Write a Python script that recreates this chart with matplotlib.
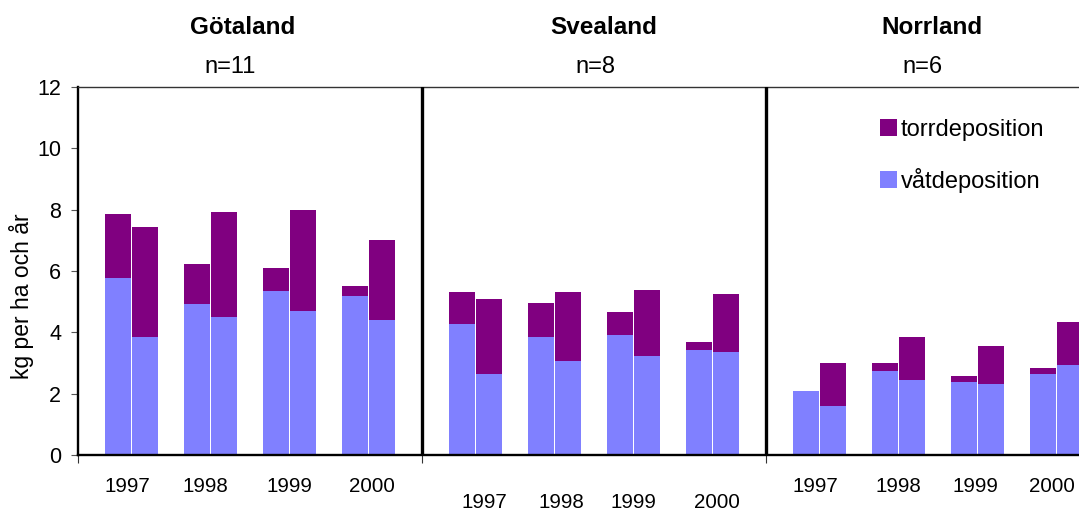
import matplotlib
matplotlib.use("Agg")
import matplotlib.pyplot as plt
from matplotlib.patches import Patch
import matplotlib.transforms as mtransforms

plt.rcParams['font.family'] = ['Liberation Sans', 'DejaVu Sans']

# ---------------- data ----------------
regions = ['Götaland', 'Svealand', 'Norrland']
n_labels = ['n=11', 'n=8', 'n=6']
years = ['1997', '1998', '1999', '2000']

# first bar of each year pair
wet_a = [[5.78, 4.93, 5.35, 5.19],
         [4.28, 3.85, 3.92, 3.43],
         [2.09, 2.74, 2.38, 2.64]]
dry_a = [[2.09, 1.30, 0.75, 0.33],
         [1.04, 1.11, 0.75, 0.26],
         [0.00, 0.26, 0.20, 0.20]]
# second bar of each year pair
wet_b = [[3.85, 4.50, 4.70, 4.41],
         [2.64, 3.07, 3.23, 3.37],
         [1.60, 2.45, 2.32, 2.94]]
dry_b = [[3.59, 3.43, 3.30, 2.61],
         [2.45, 2.25, 2.16, 1.88],
         [1.40, 1.40, 1.24, 1.40]]

wet_color = '#8080FF'
dry_color = '#800080'

# ---------------- layout ----------------
W, H = 1079, 512
fig = plt.figure(figsize=(W / 100, H / 100), dpi=100)
ax_left, ax_right, ax_top, ax_bot = 78, 1079, 87, 455
ax = fig.add_axes([ax_left / W, (H - ax_bot) / H,
                   (ax_right - ax_left) / W, (ax_bot - ax_top) / H])

U = 79.0                     # pixels per x unit (one year group)
PANEL_W = 344 / U
FIRST = 0.68
BAR_W = 0.33
OFF = 0.172

for p in range(len(regions)):
    for g in range(len(years)):
        xc = p * PANEL_W + FIRST + g
        for sign, wet, dry in ((-1, wet_a, dry_a), (1, wet_b, dry_b)):
            x = xc + sign * OFF
            ax.bar(x, wet[p][g], width=BAR_W, color=wet_color, linewidth=0, zorder=2)
            ax.bar(x, dry[p][g], width=BAR_W, bottom=wet[p][g], color=dry_color,
                   linewidth=0, zorder=2)

ax.set_xlim(0, (ax_right - ax_left) / U)
ax.set_ylim(0, 12)

# panel separators
for p in range(1, len(regions)):
    ax.axvline(p * PANEL_W, color='black', lw=2.4, zorder=3)

# spines
ax.spines['left'].set_linewidth(1.7)
ax.spines['bottom'].set_linewidth(1.7)
ax.spines['top'].set_linewidth(1.0)
ax.spines['top'].set_color('#333333')
ax.spines['right'].set_visible(False)

ax.set_yticks(range(0, 13, 2))
ax.tick_params(axis='y', direction='out', length=5, width=0.8, color='#555555',
               labelsize=15.5, pad=7)
ax.set_xticks([p * PANEL_W for p in range(len(regions))])
ax.set_xticklabels([])
ax.tick_params(axis='x', direction='out', length=6, width=0.8, color='#333333')

# year labels
trans = mtransforms.blended_transform_factory(ax.transData, fig.transFigure)
year_y = [486, 503, 486]
year_dx = [[-0.06, -0.07, 0.0, 0.04],
           [0.11, 0.09, 0.0, 0.05],
           [-0.06, 0.0, -0.03, -0.06]]
for p in range(len(regions)):
    for g, yr in enumerate(years):
        xc = p * PANEL_W + FIRST + g + year_dx[p][g]
        ax.text(xc, 1 - year_y[p] / H, yr, transform=trans, ha='center',
                va='center', fontsize=14.8)

# titles
title_x = [243, 604, 932]
n_x = [230, 595, 923]
for p in range(len(regions)):
    fig.text(title_x[p] / W, 1 - 27 / H, regions[p], ha='center', va='center',
             fontsize=17.5, fontweight='bold')
    fig.text(n_x[p] / W, 1 - 67 / H, n_labels[p], ha='center', va='center',
             fontsize=17)

# y label
fig.text(22 / W, 1 - 296 / H, 'kg per ha och år', rotation=90, ha='center',
         va='center', fontsize=16.5)

# legend
handles = [Patch(facecolor=dry_color, edgecolor='none', label='torrdeposition'),
           Patch(facecolor=wet_color, edgecolor='none', label='våtdeposition')]
ax.legend(handles=handles, loc='upper left',
          bbox_to_anchor=(880 / W, 1 - 119 / H), bbox_transform=fig.transFigure,
          frameon=False, fontsize=17, handlelength=0.72, handleheight=0.72,
          handletextpad=0.15, labelspacing=1.15, borderpad=0, borderaxespad=0)

fig.savefig('out.png', dpi=100)
